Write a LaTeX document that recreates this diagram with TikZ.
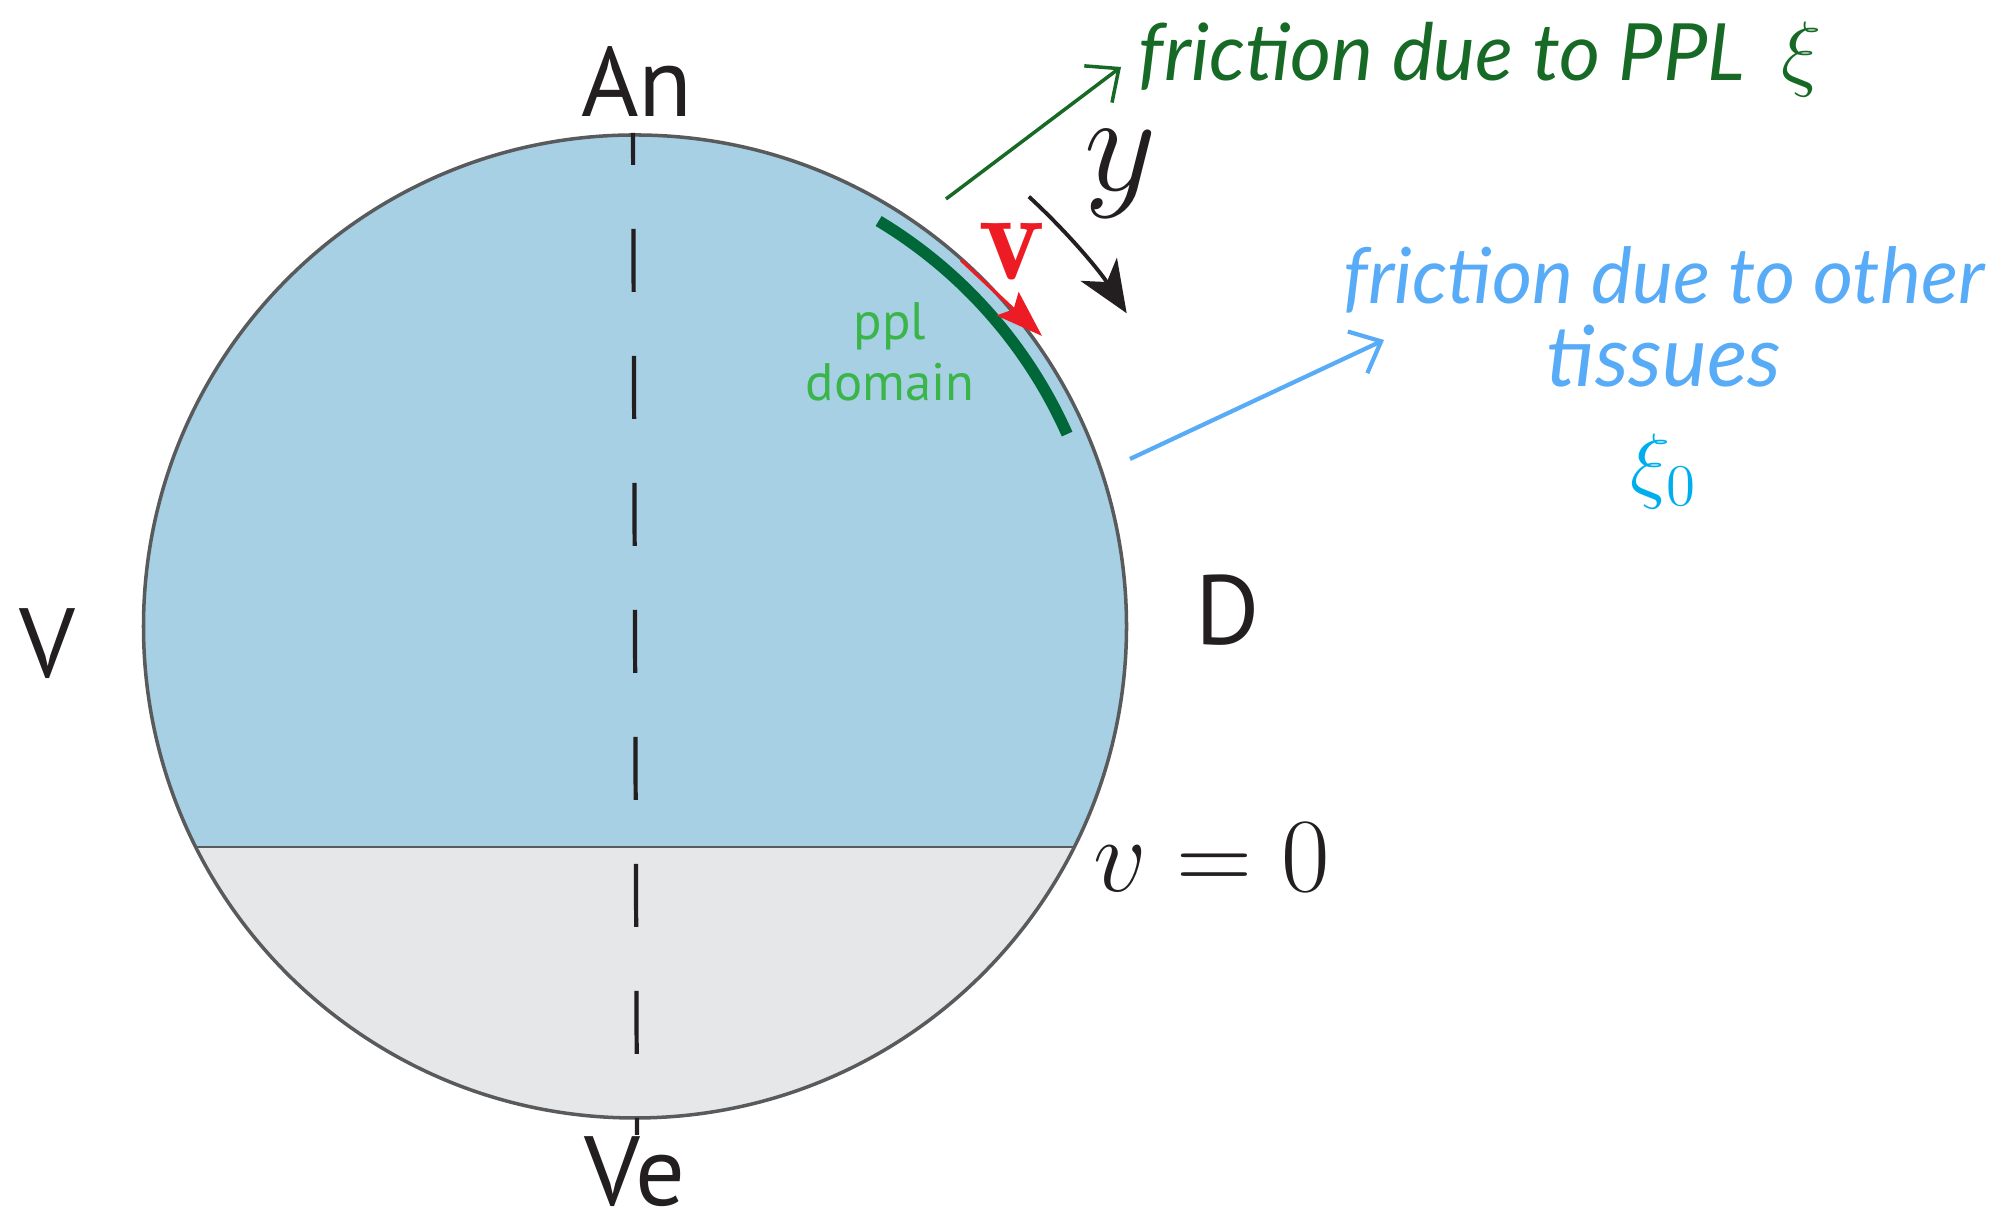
\RequirePackage{fix-cm}
\documentclass[tikz,border=0pt]{standalone}
\usepackage{fontspec}
\usetikzlibrary{arrows.meta,positioning,calc}
\newfontfamily\labelfont{PT Sans}
\newfontfamily\handfont{Lato}
\definecolor{cellblue}{HTML}{A8D0E4}
\definecolor{yolkgrey}{HTML}{E6E7E8}
\definecolor{rimgrey}{HTML}{595A5C}
\definecolor{ppldark}{HTML}{006838}
\definecolor{pplgreen}{HTML}{176A26}
\definecolor{pplhint}{HTML}{39B54A}
\definecolor{velred}{HTML}{ED1C24}
\definecolor{tissueblue}{HTML}{58ABF6}
\definecolor{xicyan}{HTML}{00AEEF}
\definecolor{ink}{HTML}{231F20}

\begin{document}
\begin{tikzpicture}[
  axislab/.style={font=\labelfont\fontsize{28}{30}\selectfont, text=ink, inner sep=0pt, anchor=base},
  hand/.style={font=\handfont\itshape\fontsize{22}{26}\selectfont, inner sep=0pt, anchor=base},
  mathlab/.style={inner sep=0pt},
  arrow/.style={-{Straight Barb[length=2.6mm, width=4.6mm]}, line width=1pt}
]
\useasboundingbox (0,0) rectangle (20.09,12.25);
\coordinate (c) at (6.35,5.985);
% embryo: blue cap over grey yolk
\begin{scope}
  \clip (c) circle (4.915);
  \fill[cellblue] (1,3.78) rectangle (12,11);
  \fill[yolkgrey] (1,0.8) rectangle (12,3.78);
\end{scope}
\draw[rimgrey, line width=0.8pt] (1.957,3.78) -- (10.743,3.78);
\draw[rimgrey, line width=1pt] (c) circle (4.915);

% animal-vegetal axis
\coordinate (axtop) at (6.33,10.92);
\coordinate (axbot) at (6.37,0.90);
\draw[ink, line width=1.2pt, dash pattern=on 6.3mm off 6.4mm, dash phase=3.1mm] (axtop) -- (axbot);

\node[axislab] (an) at (6.37,11.08) {An};
\node[axislab] (ve) at (6.35,0.19) {Ve};
\node[axislab] (vl) at (0.47,5.47) {V};
\node[axislab] (dl) at (12.28,5.80) {D};

% ppl domain
\draw[ppldark, line width=3.3pt] ($(c)+(59:4.73)$) arc[start angle=59, end angle=24, radius=4.73];
\node[font=\labelfont\fontsize{15}{17.4}\selectfont, text=pplhint, align=center] (ppl) at (8.90,8.73) {ppl\\domain};

% velocity
\coordinate (vtail) at (9.61,9.65);
\coordinate (vtip) at (10.42,8.89);
\draw[velred, line width=0.9pt, -{Stealth[length=4.7mm, width=3.2mm, inset=0.8mm]}] (vtail) -- (vtip);
\node[mathlab, text=velred, font=\fontsize{36}{40}\selectfont] (vlab) at (10.12,9.73) {$\mathbf{v}$};

% y direction
\coordinate (ystart) at ($(c)+(47.5:5.83)$);
\draw[ink, line width=1.1pt, -{Stealth[length=5.2mm, width=4.3mm, inset=1.5mm]}] (ystart) arc[start angle=47.5, end angle=32.5, radius=5.83];
\node[mathlab, text=ink, font=\fontsize{40}{44}\selectfont] (ylab) at (11.21,10.51) {$y$};

\node[mathlab, text=ink, font=\fontsize{30}{34}\selectfont, anchor=base] (vzero) at (12.12,3.33) {$v=0$};

% frictions
\coordinate (pplfoot) at (9.46,10.26);
\coordinate (pplhead) at (11.21,11.58);
\draw[pplgreen, arrow] (pplfoot) -- (pplhead);
\node[hand, text=pplgreen, anchor=base west, font=\handfont\itshape\fontsize{22.5}{26}\selectfont] (fricppl) at (11.38,11.44) {friction due to PPL};
\node[mathlab, text=pplgreen, font=\fontsize{24}{28}\selectfont, anchor=base west] (xippl) at (17.81,11.44) {$\xi$};

\coordinate (tissfoot) at (11.30,7.66);
\coordinate (tisshead) at (13.84,8.85);
\draw[tissueblue, arrow, line width=1.2pt] (tissfoot) -- (tisshead);
\node[hand, text=tissueblue, anchor=base west] (fricother) at (13.43,9.21) {friction due to other};
\node[hand, text=tissueblue, below=8.3mm of fricother.base, anchor=base, font=\handfont\itshape\fontsize{24}{28}\selectfont] (tissues) {tissues};
\node[mathlab, text=xicyan, font=\fontsize{24}{28}\selectfont, below=10.6mm of tissues.base, anchor=base] (xizero) {$\xi_0$};
\end{tikzpicture}
\end{document}
